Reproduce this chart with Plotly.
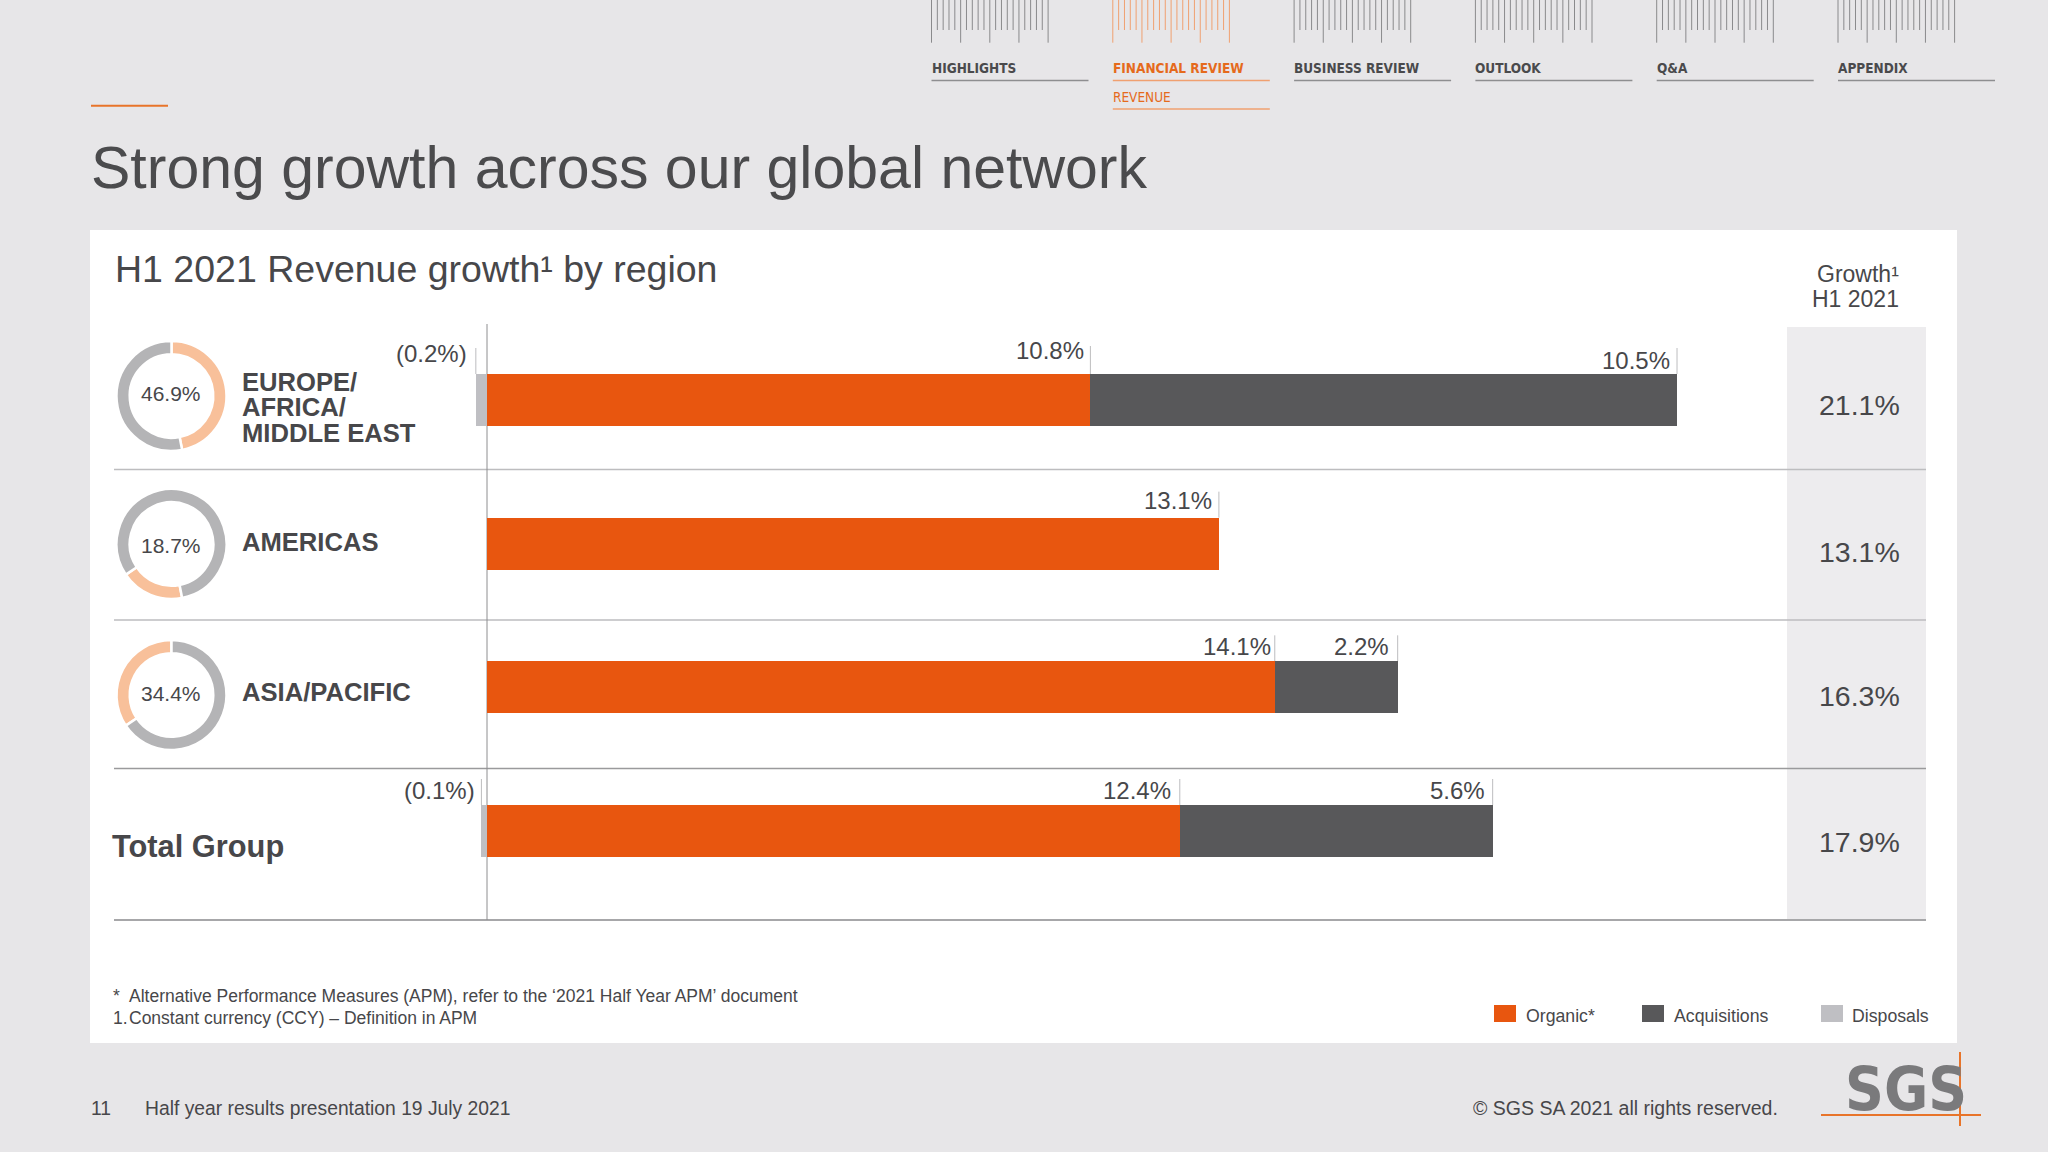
import plotly.graph_objects as go

# ---------- data ----------
regions = ["EMEA", "Americas", "Asia/Pacific", "Total Group"]
organic = [10.8, 13.1, 14.1, 12.4]
acquisitions = [10.5, 0, 2.2, 5.6]
disposals = [-0.2, 0, 0, -0.1]
growth_totals = ["21.1%", "13.1%", "16.3%", "17.9%"]
donut_shares = [46.9, 18.7, 34.4]
nav_items = ["HIGHLIGHTS", "FINANCIAL REVIEW", "BUSINESS REVIEW", "OUTLOOK", "Q&A", "APPENDIX"]

# ---------- style / layout ----------
W, H = 2048, 1152
BG = "#E7E6E8"; ORANGE = "#E8560F"; DARK = "#58585A"; LIGHT = "#BFBFC3"
TXT = "#47474A"; ACC = "#E8742A"
PX_PER_PCT = 55.87; X0 = 487
ROW_H = 143.67; ROW0 = 400; BAR_H = 52
FONT = "Liberation Sans"
NARROW = "DejaVu Sans Condensed"

px = lambda v: v / W
py = lambda v: 1 - v / H

shapes, ann = [], []

def rect(x0, y0, x1, y1, color, layer="below"):
    shapes.append(dict(type="rect", xref="paper", yref="paper", x0=px(x0), x1=px(x1),
                       y0=py(y0), y1=py(y1), fillcolor=color, line_width=0, layer=layer))

def line(x0, y0, x1, y1, color, w=1.0, layer="below"):
    shapes.append(dict(type="line", xref="paper", yref="paper", x0=px(x0), x1=px(x1),
                       y0=py(y0), y1=py(y1), line=dict(color=color, width=w), layer=layer))

def text(x, y, s, size, color=TXT, anchor="left", bold=False, family=FONT):
    f = dict(family=family, size=size, color=color, weight=700 if bold else 400)
    ann.append(dict(xref="paper", yref="paper", x=px(x), y=py(y), text=s, showarrow=False,
                    xanchor=anchor, yanchor="middle", borderpad=0, font=f))

# panel + growth column
rect(90, 230, 1957, 1043, "#FFFFFF")
rect(1787, 327, 1926, 919, "#EDECEE")

# separators and zero line
for y, c in zip([469.5, 620, 768.5, 920], ["#BDBDBF", "#BDBDBF", "#9A9A9C", "#8A8A8C"]):
    line(114, y, 1926, y, c, 1.5)
line(X0, 324, X0, 920, "#8E8E90", 1)

# navigation
for i, name in enumerate(nav_items):
    nx = 931.5 + i * 181.3
    active = i == 1
    tick_c = "#F0A070" if active else "#8A8A8C"
    for k in range(21):
        tx = nx + k * 5.83
        line(tx, 0, tx, 42.7 if k % 5 == 0 else 30, tick_c, 1)
    line(nx, 80.5, nx + 157, 80.5, "#F0A070" if active else "#8E8E90", 1.3)
    text(nx - 1, 67.5, name, 13.5, "#E56A1C" if active else "#4A4A4C", bold=True, family=NARROW)
text(1111.8, 97, "REVENUE", 13.5, "#E56A1C", family=NARROW)
line(1112.8, 109, 1269.8, 109, "#F0A070", 1.3)

# titles
line(91, 105.8, 168, 105.8, ACC, 2)
text(90, 168, "Strong growth across our global network", 59, "#4B4B4D")
text(114, 269, "H1 2021 Revenue growth¹ by region", 37.5)
text(1899.5, 274, "Growth¹", 23, anchor="right")
text(1899.5, 299, "H1 2021", 23, anchor="right")

# row labels
for y, s in zip([382, 407.5, 433.5], ["EUROPE/", "AFRICA/", "MIDDLE EAST"]):
    text(240.7, y, s, 25.6, bold=True)
text(240.7, 542, "AMERICAS", 25.6, bold=True)
text(240.7, 692, "ASIA/PACIFIC", 25.6, bold=True)
text(111, 846, "Total Group", 30.8, bold=True)

# donut centre labels
for y, v in zip([394, 546, 693.5], donut_shares):
    text(171, y, f"{v}%", 21, anchor="center")

# growth totals
for y, s in zip([405, 552, 696, 842], growth_totals):
    text(1901, y, s, 28.5, anchor="right")

# footnotes
text(112, 996, "*", 17.5); text(128, 996, "Alternative Performance Measures (APM), refer to the ‘2021 Half Year APM’ document", 17.5)
text(112, 1018, "1.", 17.5); text(128, 1018, "Constant currency (CCY) – Definition in APM", 17.5)

# legend
for x, c, s, tx in zip([1494, 1642, 1821], [ORANGE, DARK, LIGHT], ["Organic*", "Acquisitions", "Disposals"], [1525, 1673, 1851]):
    rect(x, 1005, x + 22, 1022, c)
    text(tx, 1016, s, 17.7)

# footer
text(90, 1108, "11", 19.3); text(144, 1108, "Half year results presentation 19 July 2021", 19.3)
text(1472, 1108, "© SGS SA 2021 all rights reserved.", 19.5)
text(1906, 1089, "SGS", 60, "#7A7A7C", anchor="center", bold=True, family=NARROW)
line(1821, 1115, 1981, 1115, ACC, 2, "above")
line(1960, 1052, 1960, 1126, ACC, 2, "above")

# ---------- value labels with leader lines, tied to the x axis ----------
def value_label(row, xval, s, y_px, pad, lead_top=26):
    top = row - (BAR_H / 2 + lead_top) / ROW_H
    shapes.append(dict(type="line", xref="x", yref="y", x0=xval, x1=xval, y0=row - BAR_H / 2 / ROW_H, y1=top,
                       line=dict(color="#BDBDBF", width=1), layer="below"))
    ann.append(dict(xref="x", yref="paper", x=xval, y=py(y_px), text=s, showarrow=False, xanchor="right",
                    yanchor="middle", xshift=-pad, borderpad=0, font=dict(family=FONT, size=24, color=TXT)))

value_label(0, disposals[0], "(0.2%)", 353, 8)
value_label(0, organic[0], "10.8%", 350, 5, 28)
value_label(0, organic[0] + acquisitions[0] + 0, "10.5%", 360, 6, 26)
value_label(1, organic[1], "13.1%", 500, 6)
value_label(2, organic[2], "14.1%", 646, 3)
value_label(2, organic[2] + acquisitions[2], "2.2%", 646, 8)
value_label(3, disposals[3], "(0.1%)", 790.5, 5)
value_label(3, organic[3], "12.4%", 790.5, 8)
value_label(3, organic[3] + acquisitions[3], "5.6%", 790.5, 7)

# ---------- traces ----------
fig = go.Figure()
fig.add_bar(name="Organic*", y=regions, x=organic, orientation="h", marker=dict(color=ORANGE, line_width=0), width=BAR_H / ROW_H)
fig.add_bar(name="Acquisitions", y=regions, x=acquisitions, orientation="h", marker=dict(color=DARK, line_width=0), width=BAR_H / ROW_H)
fig.add_bar(name="Disposals", y=regions, x=disposals, orientation="h", marker=dict(color=LIGHT, line_width=0), width=BAR_H / ROW_H)

# donuts: each region's slice starts where the previous one ended
cum = 0
R = 55
for share, cy in zip(donut_shares, [396, 544, 695]):
    fig.add_pie(values=[share, 100 - share], sort=False, direction="clockwise", rotation=cum * 3.6,
                hole=0.76, textinfo="none", showlegend=False,
                marker=dict(colors=["#F8C09A", "#B4B4B6"], line=dict(color="#FFFFFF", width=2.5)),
                domain=dict(x=[px(171.5 - R), px(171.5 + R)], y=[py(cy + R), py(cy - R)]))
    cum += share

fig.update_layout(
    width=W, height=H, margin=dict(l=0, r=0, t=0, b=0), autosize=False,
    paper_bgcolor=BG, plot_bgcolor="rgba(0,0,0,0)", barmode="relative", bargap=0, showlegend=False,
    xaxis=dict(range=[-X0 / PX_PER_PCT, (W - X0) / PX_PER_PCT], domain=[0, 1], visible=False, fixedrange=True),
    yaxis=dict(type="category", categoryorder="array", categoryarray=regions,
               range=[(H - ROW0) / ROW_H, -ROW0 / ROW_H], domain=[0, 1], visible=False, fixedrange=True),
    shapes=shapes, annotations=ann, font=dict(family=FONT, color=TXT),
)
fig.write_html("out.html", config=dict(displayModeBar=False),
               post_script="document.body.style.margin='0';")
